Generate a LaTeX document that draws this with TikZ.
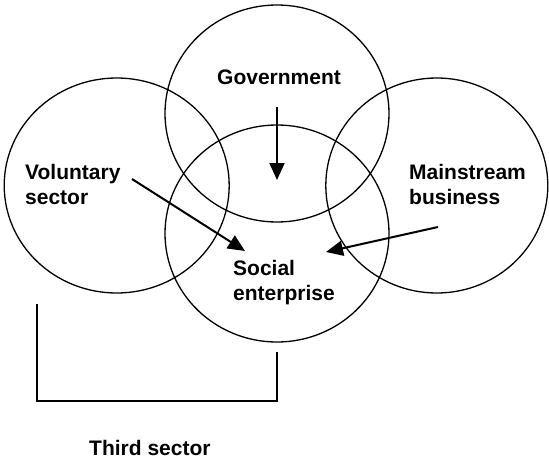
\documentclass[tikz,border=0pt]{standalone}
\usepackage{fontspec}
\setmainfont{Liberation Sans}
\usetikzlibrary{arrows.meta,shapes.geometric}
\tikzset{
  ring/.style={draw=black, line width=1.3pt, ellipse, inner sep=0pt, minimum width=224pt, minimum height=217pt},
  lbl/.style={inner sep=0pt, font=\fontsize{21}{25}\selectfont\bfseries, align=left, anchor=base west},
  flow/.style={line width=2pt, -{Triangle[length=17pt,width=15pt]}},
  brk/.style={line width=1.5pt}
}
\begin{document}
\begin{tikzpicture}[x=1pt,y=-1pt]
\useasboundingbox (0,0) rectangle (549,458);
\node[ring, minimum width=225pt, minimum height=215pt] (vol) at (116.7,185.5) {};
\node[ring] (gov) at (277,113.5) {};
\node[ring, minimum width=222pt, minimum height=215pt] (bus) at (436.8,185.5) {};
\node[ring] (soc) at (277,233.5) {};

\node[lbl] (tgov) at (217,84) {Government};
\node[lbl] (tvol) at (25,204) {Voluntary\\sector};
\node[lbl] (tbus) at (409,204) {Mainstream\\business};
\node[lbl] (tsoc) at (233,300) {Social\\enterprise};
\node[lbl] (tthird) at (89,455) {Third sector};

\coordinate (g0) at (277,107);
\coordinate (g1) at (277,180);
\coordinate (v0) at (132,179);
\coordinate (v1) at (245,251);
\coordinate (b0) at (438,227);
\coordinate (b1) at (326,252);
\draw[flow] (g0) -- (g1);
\draw[flow] (v0) -- (v1);
\draw[flow] (b0) -- (b1);

\coordinate (k0) at (37,304);
\coordinate (k1) at (37,401);
\coordinate (k2) at (277,401);
\coordinate (k3) at (277,352);
\draw[brk] (k0) -- (k1) -- (k2) -- (k3);
\end{tikzpicture}
\end{document}
